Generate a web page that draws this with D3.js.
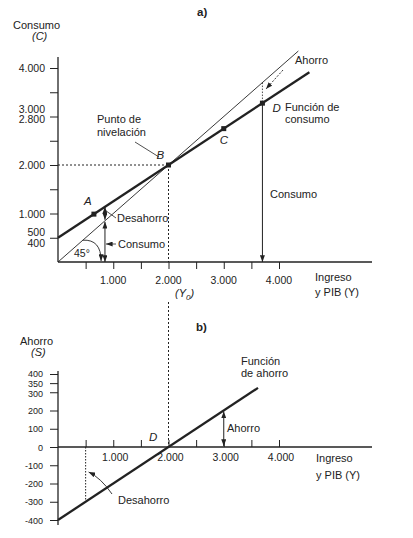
<!DOCTYPE html>
<html><head><meta charset="utf-8">
<script src="https://cdn.jsdelivr.net/npm/d3@7"></script>
<style>
body{margin:0;background:#fff;}
svg text{font-family:"Liberation Sans",Arial,sans-serif;fill:#222;}
</style></head>
<body><div id="chart"></div>
<script>
// ---------- data ----------
const incomeTicks = [500,1000,1500,2000,2500,3000,3500,4000];
const incomeLabels = [1000,2000,3000,4000];
const consTicks = [500,1000,1500,2000,2500,3000,3500,4000];
const consLabelValues = [4000,3000,2800,2000,1000,500,400];
const consLabelText = ["4.000","3.000","2.800","2.000","1.000","500","400"];
const savTicks = [-400,-300,-200,-100,0,100,200,300,350,400];
const savLabelText = ["-400","-300","-200","-100","0","100","200","300","350","400"];

// consumption function endpoints (income, consumption)
const consIncome = [0, 4550];
const consValues = [500, 3912];
// 45-degree line endpoints
const line45Income = [0, 4350];
// saving function endpoints (income, saving)
const savIncome = [0, 3620];
const savValues = [-400, 324];

// marked points on the consumption function
const pointNames = ["A","B","C","D"];
const pointIncome = [650, 2000, 3000, 3700];
const pointCons = [987, 2000, 2750, 3275];

const breakEvenIncome = 2000;
const dissavingIncomeA = 850;
const savingIncomeA = 3700;
const dissavingIncomeB = 500;
const savingIncomeB = 3000;

// ---------- layout ----------
const W = 413, H = 538;
const svg = d3.select("#chart").append("svg").attr("width", W).attr("height", H);
const ink = "#222";
const fmt = d3.formatLocale({decimal:",",thousands:".",grouping:[3],currency:["",""]}).format(",");

svg.append("defs").append("marker")
  .attr("id","arr").attr("viewBox","0 0 8 6").attr("refX",8).attr("refY",3)
  .attr("markerWidth",7).attr("markerHeight",5).attr("markerUnits","userSpaceOnUse")
  .attr("orient","auto-start-reverse")
  .append("path").attr("d","M0,0L8,3L0,6Z").attr("fill",ink);

const x = d3.scaleLinear().domain([0,4000]).range([58,279]);
const ya = d3.scaleLinear().domain([0,4000]).range([262,68]);
const yb = d3.scaleLinear().domain([0,400]).range([447,374]);
const xEnd = 372;

const consFn = d3.scaleLinear().domain(consIncome).range(consValues);
const savFn = d3.scaleLinear().domain(savIncome).range(savValues);

function txt(g, px, py, s, o={}) {
  const t = g.append("text").attr("x",px).attr("y",py).text(s)
    .attr("font-size", o.size||11).attr("text-anchor", o.anchor||"start");
  if (o.italic) t.attr("font-style","italic");
  if (o.bold) t.attr("font-weight","bold");
  return t;
}
function seg(x1,y1,x2,y2,o={}) {
  const l = svg.append("line").attr("x1",x1).attr("y1",y1).attr("x2",x2).attr("y2",y2)
    .attr("stroke",ink).attr("stroke-width",o.w||1);
  if (o.dash) l.attr("stroke-dasharray",o.dash);
  if (o.end) l.attr("marker-end","url(#arr)");
  if (o.start) l.attr("marker-start","url(#arr)");
  return l;
}

// ================= Panel a =================
const ga = svg.append("g");
const xAxisA = ga.append("g").attr("transform",`translate(0,${ya(0)})`)
  .call(d3.axisBottom(x).tickValues(incomeTicks).tickSize(7).tickFormat(""));
xAxisA.select(".domain").remove();
xAxisA.selectAll("line").attr("stroke",ink);
seg(x(0), ya(0), xEnd, ya(0), {w:1.3});
incomeLabels.forEach(v => txt(ga, x(v), 284, fmt(v), {anchor:"middle", size:10.5}));

const yAxisA = ga.append("g").attr("transform",`translate(${x(0)},0)`)
  .call(d3.axisLeft(ya).tickValues(consTicks).tickSize(8).tickFormat(""));
yAxisA.select(".domain").remove();
yAxisA.selectAll("line").attr("stroke",ink);
seg(x(0), 57, x(0), ya(0), {w:1.3});
const consLabelShift = [0,-8,-7,0,0,-6,0];
consLabelValues.forEach((v,i) => txt(ga, 45, ya(v)+consLabelShift[i]+4, consLabelText[i], {anchor:"end", size:10.5}));

txt(ga, 13, 29, "Consumo");
txt(ga, 32, 40, "(C)", {italic:true});
txt(ga, 197, 16, "a)", {bold:true, size:11.5});
txt(ga, 315, 281, "Ingreso");
txt(ga, 315, 296, "y PIB (Y)");
const y0 = txt(ga, 175, 297, "(", {italic:true, size:11});
y0.append("tspan").text("Y");
y0.append("tspan").text("0").attr("font-size",8).attr("dy",3);
y0.append("tspan").text(")").attr("dy",-3);

const lineA = d3.line().x(d=>x(d[0])).y(d=>ya(d[1]));
ga.append("path").attr("d", lineA(line45Income.map(v=>[v,v])))
  .attr("fill","none").attr("stroke",ink).attr("stroke-width",0.9);
ga.append("path").attr("d", lineA(consIncome.map((v,i)=>[v,consValues[i]])))
  .attr("fill","none").attr("stroke",ink).attr("stroke-width",2.3);

seg(x(0), ya(breakEvenIncome), x(breakEvenIncome), ya(breakEvenIncome), {dash:"2,2"});
seg(x(breakEvenIncome), ya(breakEvenIncome), x(breakEvenIncome), ya(0), {dash:"2,2"});
seg(x(breakEvenIncome), 302, x(breakEvenIncome), yb(0), {dash:"2,2"});

const xd = x(dissavingIncomeA);
seg(xd, ya(consFn(dissavingIncomeA)), xd, ya(dissavingIncomeA)-1, {start:true, end:true, w:1});
seg(xd, ya(dissavingIncomeA)+1, xd, ya(0), {start:true, end:true, w:1});
seg(xd+1, ya(consFn(dissavingIncomeA))+4, 116, 218, {w:0.8});
txt(ga, 117, 222, "Desahorro");
seg(116, 244, xd+1, 244, {end:true, w:0.8});
txt(ga, 118, 248, "Consumo");

ga.append("path")
  .attr("d", `M${x(450)},${ya(450)} Q${x(780)},${ya(470)} ${x(780)},${ya(0)-1}`)
  .attr("fill","none").attr("stroke",ink).attr("stroke-width",0.9).attr("marker-end","url(#arr)");
txt(ga, 74, 257, "45°", {size:10.5});

const xs = x(savingIncomeA);
seg(xs, ya(savingIncomeA), xs, ya(consFn(savingIncomeA)), {dash:"1.5,1.5", w:0.8});
seg(xs, ya(consFn(savingIncomeA)), xs, ya(0), {end:true, w:1});
seg(283, 70, 266, 89, {dash:"2,1.5", end:true, w:0.9});
txt(ga, 295, 64, "Ahorro");
txt(ga, 270, 198, "Consumo");
txt(ga, 285, 111, "Función de");
txt(ga, 285, 123, "consumo");

txt(ga, 97, 123, "Punto de");
txt(ga, 97, 136, "nivelación");
seg(135, 142, 159, 157, {w:0.8});

pointNames.forEach((n,i) => {
  ga.append("rect").attr("x", x(pointIncome[i])-2.5).attr("y", ya(pointCons[i])-2.5)
    .attr("width",5).attr("height",5).attr("fill",ink);
});
const labelDx = [-10,-12,-4,10];
const labelDy = [-9,-6,15,9];
pointNames.forEach((n,i) => txt(ga, x(pointIncome[i])+labelDx[i], ya(pointCons[i])+labelDy[i], n, {italic:true, size:11.5}));

// ================= Panel b =================
const gb = svg.append("g");
const xAxisB = gb.append("g").attr("transform",`translate(0,${yb(0)})`)
  .call(d3.axisBottom(x).tickValues(incomeTicks).tickSizeInner(-7).tickSizeOuter(0).tickFormat(""));
xAxisB.select(".domain").remove();
xAxisB.selectAll("line").attr("stroke",ink);
seg(x(0), yb(0), xEnd, yb(0), {w:1.3});
incomeLabels.forEach(v => txt(gb, x(v)+2, 461, fmt(v), {anchor:"middle", size:10.5}));

const yAxisB = gb.append("g").attr("transform",`translate(${x(0)},0)`)
  .call(d3.axisLeft(yb).tickValues(savTicks).tickSize(8).tickFormat(""));
yAxisB.select(".domain").remove();
yAxisB.selectAll("line").attr("stroke",ink);
seg(x(0), 371, x(0), 525, {w:1.3});
const savLabelShift = [0,0,0,0,0,0,0,1,0,-1];
savTicks.forEach((v,i) => txt(gb, 43, yb(v)+3.5+savLabelShift[i], savLabelText[i], {anchor:"end", size:9}));

txt(gb, 20, 345, "Ahorro");
txt(gb, 31, 356, "(S)", {italic:true});
txt(gb, 196, 331, "b)", {bold:true, size:11.5});
txt(gb, 316, 462, "Ingreso");
txt(gb, 316, 479, "y PIB (Y)");

const lineB = d3.line().x(d=>x(d[0])).y(d=>yb(d[1]));
gb.append("path").attr("d", lineB(savIncome.map((v,i)=>[v,savValues[i]])))
  .attr("fill","none").attr("stroke",ink).attr("stroke-width",2.3);

txt(gb, 241, 365, "Función");
txt(gb, 241, 377, "de ahorro");

const xsb = x(savingIncomeB);
seg(xsb, yb(savFn(savingIncomeB))+1, xsb, yb(0)-1, {start:true, end:true, w:1});
txt(gb, 227, 432, "Ahorro");

const xdb = x(dissavingIncomeB);
seg(xdb, yb(0), xdb, yb(savFn(dissavingIncomeB)), {dash:"1.5,1.5", w:1});
gb.append("path").attr("d", `M112,494 Q101,478 ${xdb+3},472`)
  .attr("fill","none").attr("stroke",ink).attr("stroke-width",0.9).attr("marker-end","url(#arr)");
txt(gb, 118, 504, "Desahorro");

txt(gb, 149, 441, "D", {italic:true, size:11.5});
</script></body></html>
